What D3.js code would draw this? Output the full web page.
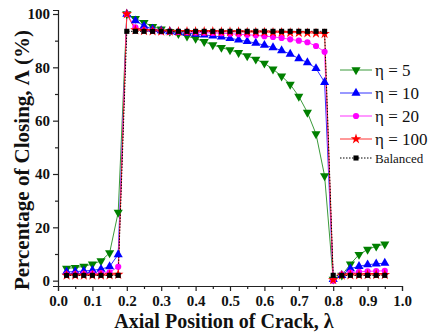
<!DOCTYPE html>
<html>
<head>
<meta charset="utf-8">
<script src="https://cdn.jsdelivr.net/npm/d3@7"></script>
<style>
  body { margin: 0; background: #fff; }
  svg { display: block; }
  svg text { font-family: "Liberation Serif", Tinos, "Times New Roman", "DejaVu Serif", serif !important; }
</style>
</head>
<body>
<div id="container"></div>
<script>
/* CONSTANTS AND GLOBALS */
const width = 428;
const height = 334;
const margin = { top: 10, right: 26, bottom: 48, left: 58 };

/* DATA */
const lambda = [0.025, 0.05, 0.075, 0.1, 0.125, 0.15, 0.175, 0.2, 0.225, 0.25,
  0.275, 0.3, 0.325, 0.35, 0.375, 0.4, 0.425, 0.45, 0.475, 0.5,
  0.525, 0.55, 0.575, 0.6, 0.625, 0.65, 0.675, 0.7, 0.725, 0.75,
  0.775, 0.8, 0.825, 0.85, 0.875, 0.9, 0.925, 0.95];

const eta5 = [4.6, 4.9, 5.4, 6.2, 7.4, 10.4, 25.6, 100, 98.3, 96.8,
  95.3, 94.3, 93.4, 92.6, 91.7, 90.8, 89.6, 88.4, 87.4, 86.5,
  85.5, 84.3, 83, 81.5, 79.3, 76.7, 73.6, 69.1, 63.1, 55,
  39.3, 0.5, 2, 6.2, 9.8, 11.7, 12.9, 13.7];

const eta10 = [3.3, 3.4, 3.6, 3.9, 4.3, 5.3, 9.8, 100, 97.5, 95.5,
  94.4, 93.8, 93.4, 93.1, 92.8, 92.5, 92.2, 91.8, 91.4, 90.9,
  90.3, 89.7, 89.1, 88.3, 87.4, 86.3, 85, 83.3, 81.8, 79.6,
  74.4, 0.5, 2, 4.5, 5.4, 6, 6.3, 6.6];

const eta20 = [2.4, 2.5, 2.6, 2.7, 2.8, 3.1, 5.2, 100, 95, 94,
  93.7, 93.5, 93.4, 93.3, 93.2, 93.1, 93, 92.9, 92.8, 92.6,
  92.4, 92.2, 92, 91.7, 91.4, 91, 90.5, 90, 89.4, 88,
  85.8, 0, 2.4, 3, 3.3, 3.5, 3.6, 3.7];

const eta100 = [2, 2, 2, 2, 2, 2.1, 2.3, 100, 94, 93.7,
  93.6, 93.5, 93.5, 93.4, 93.4, 93.4, 93.4, 93.4, 93.3, 93.3,
  93.3, 93.2, 93.2, 93.2, 93.1, 93.1, 93, 93, 92.9, 92.8,
  92.6, 0.3, 2, 2.1, 2.1, 2.2, 2.2, 2.2];

const balanced = [2, 2, 2, 2, 2, 2, 2, 93.5, 93.5, 93.5,
  93.5, 93.5, 93.5, 93.5, 93.5, 93.5, 93.5, 93.5, 93.5, 93.5,
  93.5, 93.5, 93.5, 93.5, 93.5, 93.5, 93.5, 93.5, 93.5, 93.5,
  93.5, 2, 2, 2, 2, 2, 2, 2];

const seriesNames = ["η = 5", "η = 10", "η = 20", "η = 100", "Balanced"];
const xTicks = [0, 0.1, 0.2, 0.3, 0.4, 0.5, 0.6, 0.7, 0.8, 0.9, 1.0];
const xMinor = [0.05, 0.15, 0.25, 0.35, 0.45, 0.55, 0.65, 0.75, 0.85, 0.95];
const yTicks = [0, 20, 40, 60, 80, 100];
const yMinor = [10, 30, 50, 70, 90];

const series = [
  { name: seriesNames[0], values: eta5, color: "#008000", line: "#3a9a3a", symbol: d3.symbolTriangle, flip: true, size: 36 },
  { name: seriesNames[1], values: eta10, color: "#0000ff", line: "#3333ff", symbol: d3.symbolTriangle, flip: false, size: 36 },
  { name: seriesNames[2], values: eta20, color: "#ff00ff", line: "#ff33ff", symbol: d3.symbolCircle, flip: false, size: 30 },
  { name: seriesNames[3], values: eta100, color: "#ff0000", line: "#ff3333", symbol: d3.symbolStar, flip: false, size: 34 },
  { name: seriesNames[4], values: balanced, color: "#000000", line: "#000000", symbol: d3.symbolSquare, flip: false, size: 26, dash: "1.5,1.5" }
];

const svg = d3.select("#container")
  .append("svg")
  .attr("width", width)
  .attr("height", height);

/* SCALES */
const xScale = d3.scaleLinear()
  .domain([0, 1])
  .range([margin.left, width - margin.right]);

const yScale = d3.scaleLinear()
  .domain([-2, 101.5])
  .range([height - margin.bottom, margin.top]);

/* AXES */
svg.append("g")
  .attr("transform", `translate(0,${height - margin.bottom})`)
  .call(d3.axisBottom(xScale).tickValues(xTicks).tickFormat(d3.format(".1f")).tickSizeOuter(0).tickSize(5).tickPadding(4));

svg.append("g")
  .attr("transform", `translate(0,${height - margin.bottom})`)
  .call(d3.axisBottom(xScale).tickValues(xMinor).tickFormat("").tickSizeOuter(0).tickSize(3))
  .select(".domain").remove();

svg.append("g")
  .attr("transform", `translate(${margin.left},0)`)
  .call(d3.axisLeft(yScale).tickValues(yTicks).tickSizeOuter(0).tickSize(5).tickPadding(3));

svg.append("g")
  .attr("transform", `translate(${margin.left},0)`)
  .call(d3.axisLeft(yScale).tickValues(yMinor).tickFormat("").tickSizeOuter(0).tickSize(3))
  .select(".domain").remove();

svg.selectAll(".domain, .tick line").attr("stroke", "#222").attr("stroke-width", 1.2);
svg.selectAll(".tick text")
  .style("font-weight", "bold")
  .style("font-size", "15px")
  .attr("fill", "#111");

/* LINES AND MARKERS */
const line = d3.line()
  .x((d, i) => xScale(lambda[i]))
  .y(d => yScale(d));

series.forEach(s => {
  svg.append("path")
    .datum(s.values)
    .attr("fill", "none")
    .attr("stroke", s.line)
    .attr("stroke-width", 1)
    .attr("stroke-dasharray", s.dash || null)
    .attr("d", line);
});

series.forEach(s => {
  svg.append("g")
    .selectAll("path")
    .data(s.values)
    .join("path")
    .attr("d", d3.symbol().type(s.symbol).size(s.size))
    .attr("transform", (d, i) => `translate(${xScale(lambda[i])},${yScale(d)})${s.flip ? " rotate(180)" : ""}`)
    .attr("fill", s.color);
});

/* LEGEND */
const legend = svg.append("g");
const legendY = [70, 93, 116, 139, 158];
series.forEach((s, i) => {
  const g = legend.append("g").attr("transform", `translate(0,${legendY[i]})`);
  g.append("line")
    .attr("x1", 340).attr("x2", 372)
    .attr("stroke", s.line).attr("stroke-width", 1)
    .attr("stroke-dasharray", s.dash || null);
  g.append("path")
    .attr("d", d3.symbol().type(s.symbol).size(s.size))
    .attr("transform", `translate(356,0)${s.flip ? " rotate(180)" : ""}`)
    .attr("fill", s.color);
  g.append("text")
    .attr("x", 375)
    .attr("y", i === 4 ? 4.5 : 5.5)
    .style("font-size", i === 4 ? "13px" : "17px")
    .attr("fill", "#111")
    .text(s.name);
});

/* TITLES */
svg.append("text")
  .attr("x", 224)
  .attr("y", 328)
  .attr("text-anchor", "middle")
  .style("font-weight", "bold")
  .style("font-size", "20px")
  .attr("fill", "#111")
  .text("Axial Position of Crack, λ");

svg.append("text")
  .attr("transform", `translate(29,160) rotate(-90)`)
  .attr("text-anchor", "middle")
  .style("font-weight", "bold")
  .style("font-size", "21px")
  .attr("fill", "#111")
  .text("Percentage of Closing, Λ (%)");
</script>
</body>
</html>
